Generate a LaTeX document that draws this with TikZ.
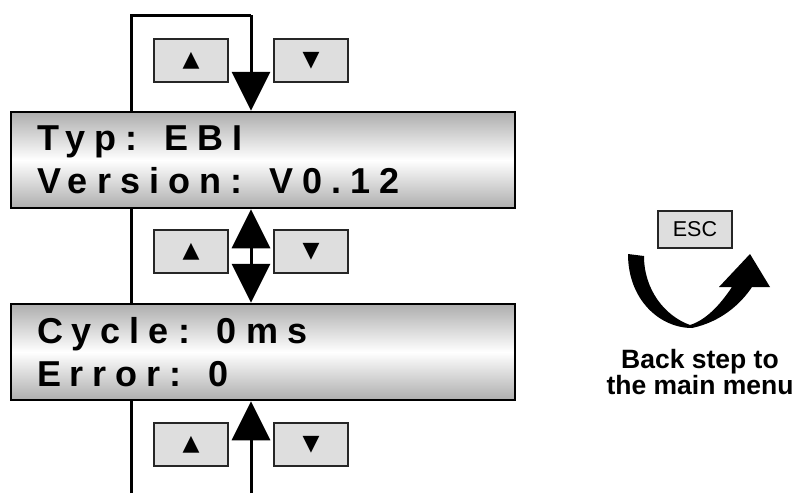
\documentclass[tikz,border=0pt]{standalone}
\usepackage{fontspec}
\usepackage{tikz}
\usetikzlibrary{shapes, arrows, arrows.meta}
\setmainfont{Liberation Sans}
\newfontfamily\symfont{DejaVu Sans}
\newfontfamily\lcdfont[LetterSpace=25]{Liberation Sans Bold}
\newcommand{\lcdsize}{\lcdfont\fontsize{36}{43}\selectfont}
\newcommand{\gap}{\hspace{27pt}}
\tikzstyle{display} = [rectangle, draw, line width=2.5pt, top color=black!32,
    bottom color=black!32, middle color=white, minimum width=504pt,
    minimum height=96pt, text width=480pt, align=left, inner sep=0pt,
    font=\lcdsize]
\tikzstyle{key} = [rectangle, draw=black!85, line width=1.3pt, fill=black!13,
    minimum width=74pt, minimum height=43pt, inner sep=0pt,
    font=\symfont\fontsize{22}{22}\selectfont]
\tikzstyle{esckey} = [key, minimum height=37pt, font=\fontsize{21.5}{21.5}\selectfont]
\tikzstyle{line} = [draw, line width=3pt, -{Triangle[width=38pt, length=39pt]}]
\tikzstyle{wire} = [draw, line width=3pt]

\begin{document}
\begin{tikzpicture}[x=1pt, y=-1pt]
    \useasboundingbox (0,0) rectangle (793,493);
    % Nodes
    \node [display] (info) at (263,160) {\hspace*{14pt}Typ:\gap EBI\\\hspace*{14pt}Version:\gap V0.12};
    \node [display] (cycle) at (263,352) {\hspace*{14pt}Cycle:\gap 0ms\\\hspace*{14pt}Error:\gap 0};
    \node [key] (up1) at (191,60.5) {▲};
    \node [key] (down1) at (311,60.5) {▼};
    \node [key] (up2) at (191,251.5) {▲};
    \node [key] (down2) at (311,251.5) {▼};
    \node [key] (up3) at (191,444.5) {▲};
    \node [key] (down3) at (311,444.5) {▼};
    \coordinate (loop) at (131,15);
    \coordinate (axis) at (251,15);
    \coordinate (leftend) at (131,493);
    \coordinate (axisend) at (251,493);
    \node [esckey] (esc) at (695,229.5) {ESC};
    \node [align=center, font=\bfseries\fontsize{26.5}{26}\selectfont] (back) at (700,372)
        {Back step to\\the main menu};
    % Edges
    \path [wire] (leftend) -- (cycle.south -| leftend);
    \path [wire] (cycle.north -| leftend) -- (info.south -| leftend);
    \path [wire] (info.north -| leftend) -- (loop) -- (axis);
    \path [line] (axis) -- (info.north -| axis);
    \path [line, {Triangle[width=38pt, length=39pt]}-{Triangle[width=38pt, length=39pt]}]
        (info.south -| axis) -- (cycle.north -| axis);
    \path [line] (axisend) -- (cycle.south -| axis);
    % Back arrow
    \fill (628,254) .. controls (628,300) and (660,328) .. (692,328)
        .. controls (720,322) and (740,305) .. (752,287) -- (770,287) -- (750,254)
        -- (719,287) -- (732,287) .. controls (720,305) and (706,320) .. (690,325)
        .. controls (665,316) and (644,290) .. (644,256) -- cycle;
\end{tikzpicture}
\end{document}
